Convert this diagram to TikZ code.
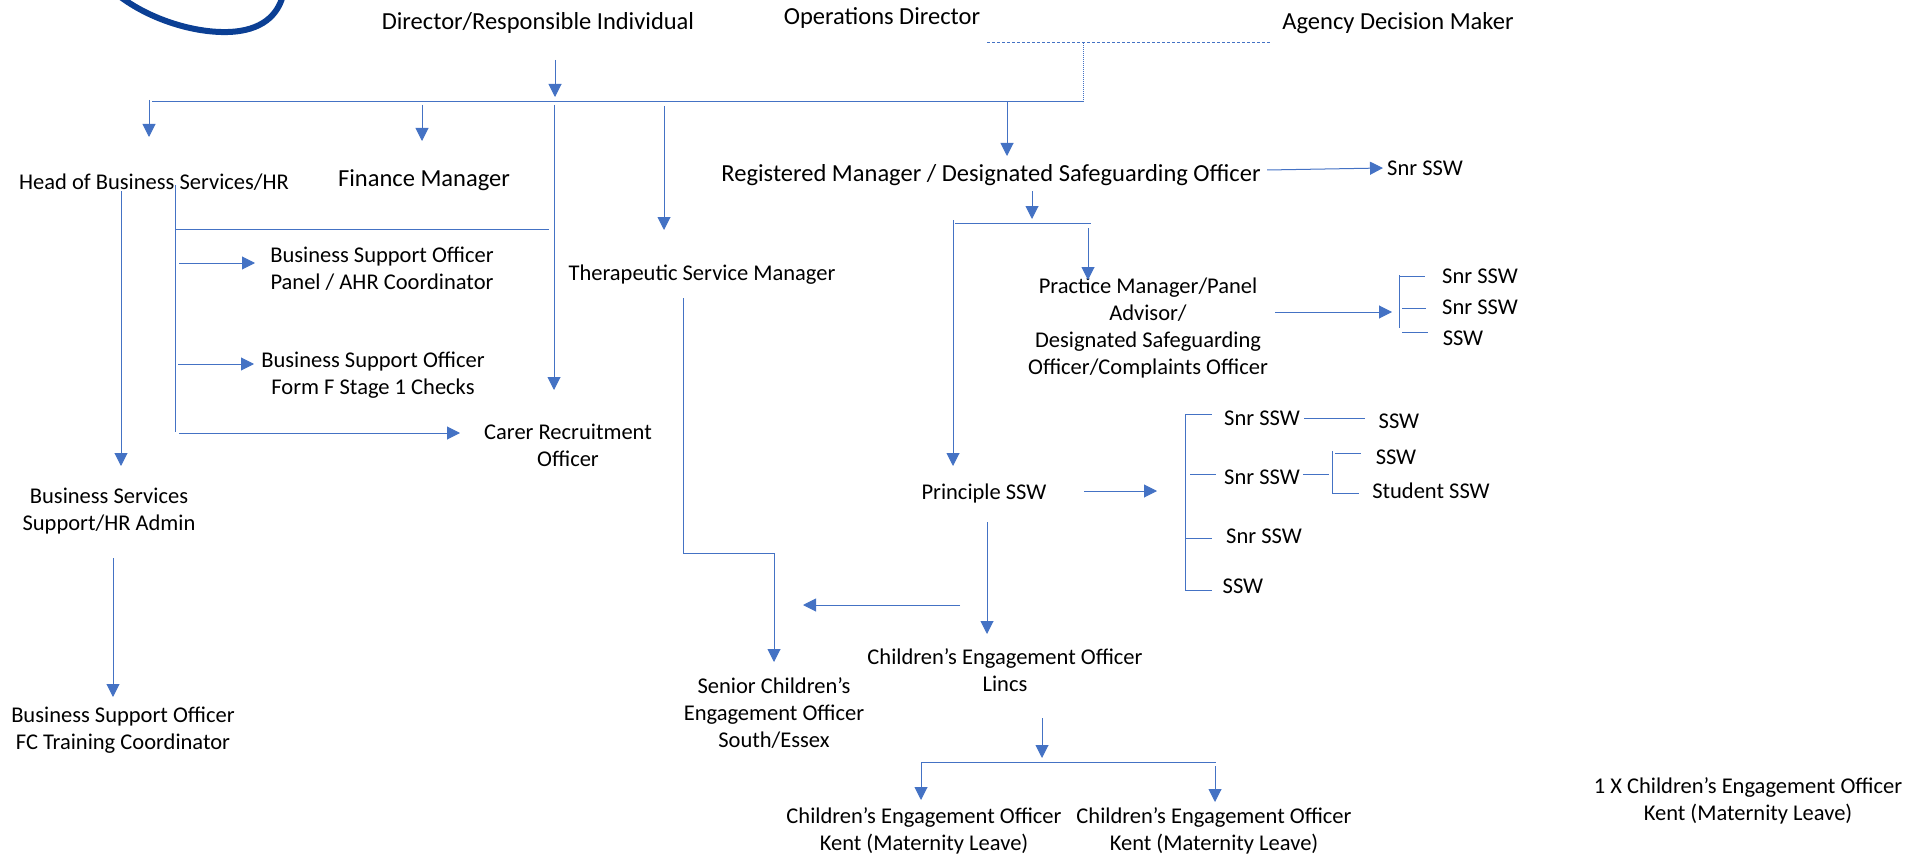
\documentclass[tikz,border=0pt]{standalone}
\usepackage{fontspec}
\setmainfont{Carlito}
\usetikzlibrary{arrows.meta}

\begin{document}
\begin{tikzpicture}[
    x=1pt, y=-1pt,
    role/.style={inner sep=2pt, align=center, text=black, yshift=-1pt,
        font=\fontsize{22.5}{27}\selectfont},
    bigrole/.style={role, font=\fontsize{24.5}{27}\selectfont},
    link/.style={draw=linkblue, line width=1pt},
    arrow/.style={link, -{Triangle[length=13pt,width=13pt]}},
    dashlink/.style={draw=linkblue, line width=1pt, densely dashed},
    logo/.style={draw=logoblue, line width=6pt}
]
    \definecolor{linkblue}{HTML}{4472C4}
    \definecolor{logoblue}{HTML}{0B3F94}
    \useasboundingbox (0,0) rectangle (1923,856);

    \node[bigrole] (director) at (538,22) {Director/Responsible Individual};
    \node[bigrole] (opsdir) at (882,17) {Operations Director};
    \node[bigrole] (agency) at (1398,22) {Agency Decision Maker};
    \node[role] (head) at (154,181) {Head of Business Services/HR};
    \node[bigrole] (finance) at (424,179) {Finance Manager};
    \node[bigrole] (regman) at (991,174) {Registered Manager / Designated Safeguarding Officer};
    \node[role] (snrtop) at (1425,167) {Snr SSW};
    \node[role] (bsopanel) at (382,268) {Business Support Officer\\Panel / AHR Coordinator};
    \node[role] (bsoform) at (373,374) {Business Support Officer\\Form F Stage 1 Checks};
    \node[role] (carer) at (568,444) {Carer Recruitment\\Officer};
    \node[role] (therapy) at (702,274) {Therapeutic Service Manager};
    \node[role] (practice) at (1148,327) {Practice Manager/Panel\\Advisor/\\Designated Safeguarding\\Officer/Complaints Officer};
    \node[role] (prsnra) at (1480,275) {Snr SSW};
    \node[role] (prsnrb) at (1480,306) {Snr SSW};
    \node[role] (prssw) at (1463,337) {SSW};
    \node[role] (bsadmin) at (109,510) {Business Services\\Support/HR Admin};
    \node[role] (bsofc) at (123,729) {Business Support Officer\\FC Training Coordinator};
    \node[role] (principle) at (984,492) {Principle SSW};
    \node[role] (snra) at (1262,417) {Snr SSW};
    \node[role] (snrb) at (1262,476) {Snr SSW};
    \node[role] (snrc) at (1264,535) {Snr SSW};
    \node[role] (sswd) at (1243,585) {SSW};
    \node[role] (sswa) at (1399,420) {SSW};
    \node[role] (sswb) at (1396,456) {SSW};
    \node[role] (student) at (1431,490) {Student SSW};
    \node[role] (senior) at (774,712) {Senior Children’s\\Engagement Officer\\South/Essex};
    \node[role] (lincs) at (1005,669) {Children’s Engagement Officer\\Lincs};
    \node[role] (kentl) at (924,830) {Children’s Engagement Officer\\Kent (Maternity Leave)};
    \node[role] (kentr) at (1214,830) {Children’s Engagement Officer\\Kent (Maternity Leave)};
    \node[role] (kentx) at (1748,800) {1 X Children’s Engagement Officer\\Kent (Maternity Leave)};

    \coordinate (dirout) at (555,60);
    \coordinate (dirin) at (555,97);
    \coordinate (barl) at (152,102);
    \coordinate (barr) at (1083,102);
    \coordinate (dashl) at (987,43);
    \coordinate (dashr) at (1270,43);
    \coordinate (dashm) at (1083,43);
    \coordinate (headup) at (149,100);
    \coordinate (headin) at (149,137);
    \coordinate (finup) at (422,105);
    \coordinate (finin) at (422,141);
    \coordinate (carerup) at (554,105);
    \coordinate (carerin) at (554,390);
    \coordinate (therup) at (664,106);
    \coordinate (therin) at (664,230);
    \coordinate (regup) at (1007,102);
    \coordinate (regin) at (1007,156);
    \coordinate (headdn) at (121,191);
    \coordinate (admin) at (121,466);
    \coordinate (spine) at (175,185);
    \coordinate (spinee) at (175,432);
    \coordinate (spinej) at (175,229);
    \coordinate (spinek) at (549,229);
    \coordinate (panelo) at (179,263);
    \coordinate (paneli) at (255,263);
    \coordinate (formo) at (178,364);
    \coordinate (formi) at (254,364);
    \coordinate (careo) at (179,433);
    \coordinate (carei) at (460,433);
    \coordinate (admout) at (113,558);
    \coordinate (admin2) at (113,697);
    \coordinate (thera) at (683,298);
    \coordinate (therb) at (683,553);
    \coordinate (therc) at (774,553);
    \coordinate (therd) at (774,662);
    \coordinate (regtop) at (1267,170);
    \coordinate (regsnr) at (1383,168);
    \coordinate (regdn) at (1032,191);
    \coordinate (regdi) at (1032,219);
    \coordinate (forkl) at (955,223);
    \coordinate (forkr) at (1091,223);
    \coordinate (forkt) at (953,220);
    \coordinate (prini) at (953,466);
    \coordinate (pracup) at (1088,228);
    \coordinate (pracin) at (1088,280);
    \coordinate (praco) at (1275,312);
    \coordinate (praci) at (1392,312);
    \coordinate (bra) at (1399,275);
    \coordinate (brb) at (1399,328);
    \coordinate (bras) at (1425,276);
    \coordinate (brbl) at (1402,308);
    \coordinate (brbs) at (1426,308);
    \coordinate (brcl) at (1402,332);
    \coordinate (brcs) at (1428,332);
    \coordinate (prino) at (1084,491);
    \coordinate (prinr) at (1157,491);
    \coordinate (prindn) at (987,522);
    \coordinate (prinin) at (987,634);
    \coordinate (leftr) at (960,605);
    \coordinate (leftl) at (803,605);
    \coordinate (trunka) at (1185,414);
    \coordinate (trunkd) at (1185,590);
    \coordinate (stuba) at (1212,414);
    \coordinate (stubbl) at (1190,474);
    \coordinate (stubb) at (1216,474);
    \coordinate (stubcl) at (1185,538);
    \coordinate (stubc) at (1212,538);
    \coordinate (stubd) at (1212,590);
    \coordinate (sswal) at (1304,418);
    \coordinate (sswar) at (1365,418);
    \coordinate (snrbo) at (1303,474);
    \coordinate (snrbi) at (1329,474);
    \coordinate (twiga) at (1332,451);
    \coordinate (twigb) at (1332,494);
    \coordinate (twigal) at (1335,453);
    \coordinate (twigar) at (1361,453);
    \coordinate (twigbl) at (1333,493);
    \coordinate (twigbr) at (1359,493);
    \coordinate (lincdn) at (1042,718);
    \coordinate (lincin) at (1042,758);
    \coordinate (kbarl) at (921,762);
    \coordinate (kbarr) at (1216,762);
    \coordinate (klup) at (921,763);
    \coordinate (klin) at (921,800);
    \coordinate (krup) at (1215,766);
    \coordinate (krin) at (1215,802);

    \draw[logo] (118,-5) .. controls (150,20) and (195,33) .. (228,32)
        .. controls (262,31) and (278,15) .. (283,-5);

    \draw[arrow] (dirout) -- (dirin);
    \draw[link] (barl) -- (barr);
    \draw[dashlink] (dashl) -- (dashr);
    \draw[link, densely dotted] (dashm) -- (barr);
    \draw[arrow] (headup) -- (headin);
    \draw[arrow] (finup) -- (finin);
    \draw[arrow] (carerup) -- (carerin);
    \draw[arrow] (therup) -- (therin);
    \draw[arrow] (regup) -- (regin);
    \draw[arrow] (headdn) -- (admin);
    \draw[link] (spine) -- (spinee);
    \draw[link] (spinej) -- (spinek);
    \draw[arrow] (panelo) -- (paneli);
    \draw[arrow] (formo) -- (formi);
    \draw[arrow] (careo) -- (carei);
    \draw[arrow] (admout) -- (admin2);
    \draw[arrow] (thera) -- (therb) -- (therc) -- (therd);
    \draw[arrow] (regtop) -- (regsnr);
    \draw[arrow] (regdn) -- (regdi);
    \draw[link] (forkl) -- (forkr);
    \draw[arrow] (forkt) -- (prini);
    \draw[arrow] (pracup) -- (pracin);
    \draw[arrow] (praco) -- (praci);
    \draw[link] (bra) -- (brb);
    \draw[link] (bra |- bras) -- (bras);
    \draw[link] (brbl) -- (brbs);
    \draw[link] (brcl) -- (brcs);
    \draw[arrow] (prino) -- (prinr);
    \draw[arrow] (prindn) -- (prinin);
    \draw[arrow] (leftr) -- (leftl);
    \draw[link] (trunka) -- (trunkd);
    \draw[link] (trunka) -- (stuba);
    \draw[link] (stubbl) -- (stubb);
    \draw[link] (stubcl) -- (stubc);
    \draw[link] (trunkd) -- (stubd);
    \draw[link] (sswal) -- (sswar);
    \draw[link] (snrbo) -- (snrbi);
    \draw[link] (twiga) -- (twigb);
    \draw[link] (twigal) -- (twigar);
    \draw[link] (twigbl) -- (twigbr);
    \draw[arrow] (lincdn) -- (lincin);
    \draw[link] (kbarl) -- (kbarr);
    \draw[arrow] (klup) -- (klin);
    \draw[arrow] (krup) -- (krin);
\end{tikzpicture}
\end{document}
